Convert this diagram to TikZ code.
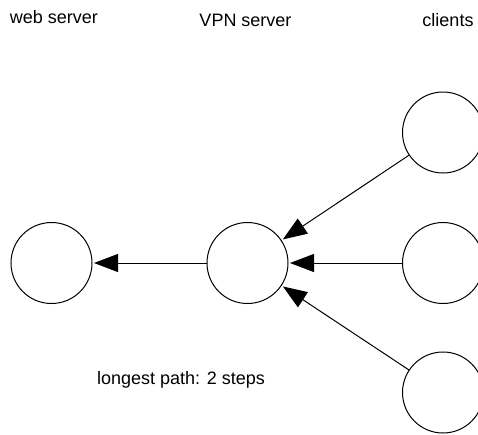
\documentclass[tikz,border=0pt]{standalone}
\usepackage{fontspec}
\setmainfont{Liberation Sans}
\usetikzlibrary{arrows.meta}
\begin{document}
\begin{tikzpicture}[x=1pt,y=-1pt,
  host/.style={circle,draw,line width=1pt,minimum size=81pt,inner sep=0pt,outer sep=0pt},
  flow/.style={line width=1pt,-{Triangle[length=24pt,width=18pt]},shorten >=2pt},
  caption/.style={anchor=base,inner sep=0pt,font=\fontsize{18}{21}\selectfont}]
  \useasboundingbox (0,0) rectangle (478,434);
  % column headings
  \node[caption] (hweb) at (54,23.3) {web server};
  \node[caption] (hvpn) at (245.5,26.5) {VPN server};
  \node[caption] (hcli) at (448,26.5) {clients};
  % hosts
  \node[host] (web) at (51.5,263) {};
  \node[host] (vpn) at (247.5,263) {};
  \node[host] (c1) at (443,132.5) {};
  \node[host] (c2) at (443,263) {};
  \node[host] (c3) at (443,392.5) {};
  % traffic
  \draw[flow] (vpn) -- (web);
  \draw[flow] (c1) -- (vpn);
  \draw[flow] (c2) -- (vpn);
  \draw[flow] (c3) -- (vpn);
  \node[caption] (note) at (181,384) {longest path: 2 steps};
\end{tikzpicture}
\end{document}
